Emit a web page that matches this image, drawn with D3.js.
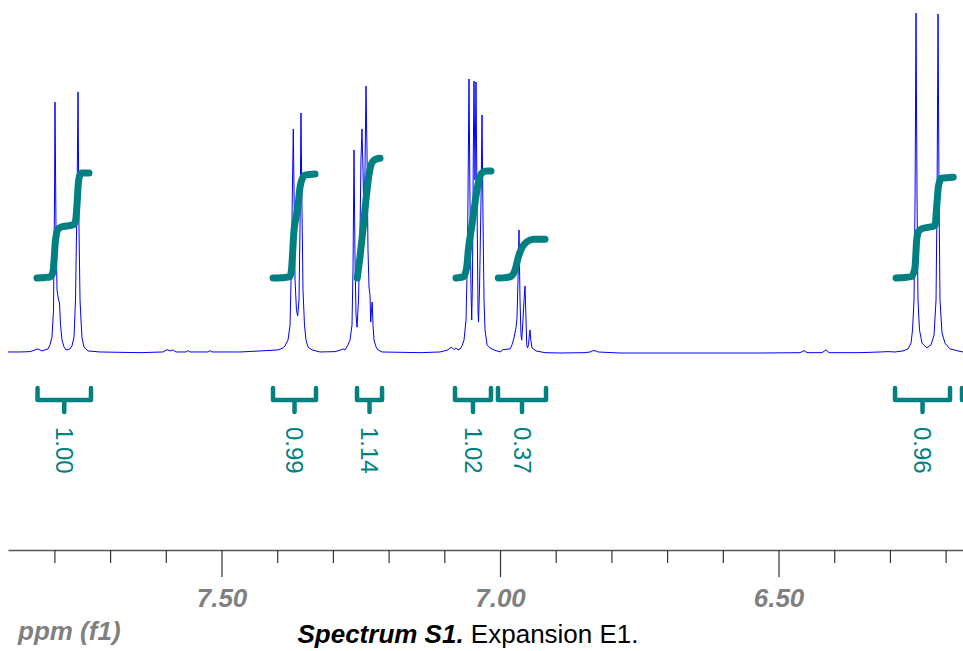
<!DOCTYPE html>
<html>
<head>
<meta charset="utf-8">
<script src="https://cdn.jsdelivr.net/npm/d3@7"></script>
<style>
  html, body { margin: 0; padding: 0; background: #ffffff; overflow: hidden; }
  svg { display: block; }
</style>
</head>
<body>
<svg id="chart" width="963" height="651"></svg>
<script>
// ---------------- data ----------------
// 1H spectrum trace: [chemical shift (ppm), relative intensity]
const spectrum = [
  [7.8833, 0.3], [7.8618, 0.3], [7.8438, 0.4], [7.8294, 1.2], [7.8223, 0.6], [7.8115, 1.2],
  [7.8079, 2.4], [7.8043, 4.7], [7.8016, 12.6], [7.7998, 45.0], [7.7989, 73.8], [7.7971, 36.2],
  [7.7953, 18.5], [7.7926, 15.6], [7.7908, 14.7], [7.7890, 8.2], [7.7863, 3.8], [7.7828, 1.8],
  [7.7792, 0.9], [7.7720, 1.2], [7.7684, 2.1], [7.7648, 4.7], [7.7621, 15.6], [7.7594, 45.0],
  [7.7576, 76.8], [7.7558, 36.2], [7.7540, 15.6], [7.7522, 9.7], [7.7504, 4.4], [7.7469, 1.8],
  [7.7397, 0.6], [7.7181, 0.3], [7.6463, 0.1], [7.6050, 0.3], [7.5978, 1.0], [7.5925, 0.6],
  [7.5871, 0.9], [7.5817, 0.3], [7.5637, 0.3], [7.5601, 0.7], [7.5566, 0.3], [7.5242, 0.3],
  [7.5206, 0.7], [7.5171, 0.3], [7.4668, 0.3], [7.4309, 0.6], [7.3986, 0.9], [7.3896, 1.5],
  [7.3860, 2.1], [7.3806, 3.8], [7.3770, 8.2], [7.3743, 27.4], [7.3725, 50.9], [7.3711, 65.9],
  [7.3698, 47.9], [7.3680, 21.5], [7.3654, 12.6], [7.3632, 10.9], [7.3609, 15.6], [7.3591, 36.2],
  [7.3573, 70.6], [7.3555, 42.1], [7.3537, 18.5], [7.3510, 8.2], [7.3483, 3.8], [7.3447, 1.8],
  [7.3375, 0.9], [7.3232, 0.3], [7.2962, 0.4], [7.2855, 0.9], [7.2819, 1.2], [7.2783, 0.9],
  [7.2729, 2.4], [7.2693, 3.8], [7.2657, 8.2], [7.2639, 24.4], [7.2621, 59.7], [7.2603, 27.4],
  [7.2585, 11.2], [7.2567, 7.6], [7.2540, 15.6], [7.2513, 36.2], [7.2496, 56.8], [7.2478, 65.9],
  [7.2460, 53.8], [7.2442, 39.1], [7.2424, 53.8], [7.2406, 78.5], [7.2388, 59.7], [7.2370, 30.3],
  [7.2352, 19.4], [7.2334, 17.1], [7.2322, 9.1], [7.2307, 12.6], [7.2295, 15.0], [7.2280, 8.2],
  [7.2262, 3.8], [7.2226, 1.8], [7.2190, 0.9], [7.2118, 0.3], [7.1436, 0.1], [7.1077, 0.3],
  [7.0934, 0.9], [7.0898, 1.5], [7.0862, 1.6], [7.0826, 1.0], [7.0790, 1.5], [7.0754, 0.9],
  [7.0718, 1.2], [7.0682, 2.1], [7.0646, 3.8], [7.0610, 9.7], [7.0583, 30.3], [7.0557, 80.6],
  [7.0539, 45.0], [7.0521, 18.5], [7.0508, 9.7], [7.0494, 21.5], [7.0479, 59.7], [7.0467, 80.0],
  [7.0449, 50.9], [7.0431, 79.7], [7.0413, 45.0], [7.0395, 12.6], [7.0386, 9.1], [7.0368, 18.5],
  [7.0341, 45.0], [7.0323, 70.0], [7.0305, 39.1], [7.0287, 15.6], [7.0269, 6.8], [7.0233, 2.4],
  [7.0180, 1.5], [7.0108, 0.9], [7.0054, 0.6], [7.0000, 0.3], [6.9946, 1.0], [6.9820, 1.2],
  [6.9785, 2.4], [6.9749, 4.4], [6.9713, 7.4], [6.9695, 10.3], [6.9677, 21.5], [6.9659, 36.2],
  [6.9641, 15.6], [6.9623, 5.3], [6.9610, 3.8], [6.9587, 9.7], [6.9569, 15.6], [6.9551, 19.7],
  [6.9533, 9.7], [6.9520, 2.4], [6.9506, 1.5], [6.9488, 2.4], [6.9474, 5.3], [6.9461, 6.8],
  [6.9447, 3.8], [6.9425, 1.5], [6.9354, 0.6], [6.9192, 0.1], [6.8923, 0.0], [6.8474, 0.1],
  [6.8384, 0.3], [6.8330, 0.7], [6.8276, 0.6], [6.8241, 0.3], [6.7846, 0.0], [6.6768, 0.0],
  [6.5332, 0.0], [6.4614, 0.1], [6.4542, 0.7], [6.4488, 0.1], [6.4219, 0.1], [6.4147, 0.9],
  [6.4093, 0.1], [6.3537, 0.1], [6.3178, 0.3], [6.3034, 0.4], [6.2908, 0.3], [6.2765, 0.6],
  [6.2675, 1.2], [6.2621, 2.9], [6.2594, 6.8], [6.2567, 15.6], [6.2549, 45.0], [6.2531, 100.0],
  [6.2513, 45.0], [6.2496, 15.6], [6.2469, 6.8], [6.2424, 2.9], [6.2339, 1.5], [6.2262, 2.4],
  [6.2208, 5.3], [6.2172, 15.6], [6.2154, 45.0], [6.2136, 99.7], [6.2118, 45.0], [6.2101, 15.6],
  [6.2065, 5.9], [6.2011, 2.9], [6.1921, 1.2], [6.1777, 0.6], [6.1688, 0.3]
];

// integration regions [from ppm, to ppm]; the last one continues past the window
const integralRanges = [
  [7.8303, 7.7343], [7.4075, 7.3303], [7.2567, 7.2118],
  [7.0808, 7.0162], [7.0036, 6.9174], [6.2908, 6.1921], [6.1706, 6.1000]
];
// normalised integral values (null = label outside the window)
const integralValues = [1.00, 0.99, 1.14, 1.02, 0.37, 0.96, null];

// running-integral traces: [ppm, fraction of the region's total]
const integralCurves = [
  [[7.8312, 0], [7.8169, 0.005], [7.8079, 0.01], [7.8043, 0.03], [7.8020, 0.08], [7.8002, 0.2],
   [7.7986, 0.33], [7.7959, 0.43], [7.7926, 0.47], [7.7846, 0.49], [7.7720, 0.5], [7.7648, 0.51],
   [7.7621, 0.54], [7.7603, 0.63], [7.7589, 0.74], [7.7571, 0.9], [7.7549, 0.97], [7.7510, 1.0],
   [7.7379, 1.0]],
  [[7.4075, 0], [7.3860, 0.005], [7.3770, 0.015], [7.3740, 0.1], [7.3722, 0.25], [7.3704, 0.42],
   [7.3681, 0.53], [7.3654, 0.6], [7.3622, 0.72], [7.3591, 0.87], [7.3561, 0.94], [7.3501, 0.99],
   [7.3321, 1.0]],
  [[7.2562, 0], [7.2540, 0.08], [7.2513, 0.18], [7.2454, 0.43], [7.2393, 0.71], [7.2346, 0.88],
   [7.2303, 0.96], [7.2244, 0.99], [7.2154, 1.0]],
  [[7.0790, 0], [7.0659, 0.01], [7.0598, 0.1], [7.0569, 0.26], [7.0508, 0.48], [7.0449, 0.7],
   [7.0390, 0.89], [7.0329, 0.98], [7.0239, 1.0], [7.0162, 1.0]],
  [[7.0031, 0], [6.9910, 0.01], [6.9820, 0.03], [6.9731, 0.2], [6.9671, 0.54], [6.9610, 0.77],
   [6.9520, 0.93], [6.9402, 1.0], [6.9192, 1.0]],
  [[6.2890, 0], [6.2729, 0.005], [6.2609, 0.015], [6.2576, 0.05], [6.2549, 0.11], [6.2519, 0.38],
   [6.2496, 0.45], [6.2472, 0.47], [6.2424, 0.49], [6.2339, 0.5], [6.2190, 0.52], [6.2160, 0.71],
   [6.2131, 0.9], [6.2101, 0.97], [6.2071, 0.99], [6.1863, 1.0]]
];

// axis ticks
const majorTicks = [7.5, 7.0, 6.5];
const majorTickLabels = ["7.50", "7.00", "6.50"];
const minorTicks = [7.8, 7.7, 7.6, 7.4, 7.3, 7.2, 7.1, 6.9, 6.8, 6.7, 6.6, 6.4, 6.3, 6.2];

const axisTitle = "ppm (f1)";
const captionBold = "Spectrum S1.";
const captionRest = " Expansion E1.";

// ---------------- drawing ----------------
const W = 963, H = 651;
const TEAL = "#008080";
const svg = d3.select("#chart");

svg.append("rect").attr("width", W).attr("height", H).attr("fill", "#ffffff");

svg.append("defs").append("clipPath").attr("id", "plotClip")
  .append("rect").attr("x", 0).attr("y", 0).attr("width", W).attr("height", H);

// chemical shift runs right-to-left
const x = d3.scaleLinear().domain([7.8833, 6.1688]).range([8, 963]);
const y = d3.scaleLinear().domain([0, 100]).range([353, 13]);
const yInt = d3.scaleLinear().domain([0, 1]).range([278, 173]);

const plot = svg.append("g").attr("clip-path", "url(#plotClip)");

// spectrum trace
plot.append("path")
  .datum(spectrum)
  .attr("fill", "none")
  .attr("stroke", "#0000ff")
  .attr("stroke-width", 1)
  .attr("stroke-linejoin", "round")
  .attr("d", d3.line().x(d => x(d[0])).y(d => y(d[1])));

// integral curves, scaled by each region's value
const intLine = d3.line().curve(d3.curveMonotoneX);
integralCurves.forEach((pts, i) => {
  const v = integralValues[i];
  plot.append("path")
    .attr("fill", "none")
    .attr("stroke", TEAL)
    .attr("stroke-width", 7)
    .attr("stroke-linecap", "round")
    .attr("stroke-linejoin", "round")
    .attr("d", intLine(pts.map(p => [x(p[0]), yInt(p[1] * v)])));
});

// integration brackets and values
const bTop = 388, bBar = 400, bStem = 412, labelTop = 427;
integralRanges.forEach((r, i) => {
  const x0 = x(r[0]), x1 = x(r[1]), xm = (x0 + x1) / 2;
  const g = plot.append("g");
  g.append("path")
    .attr("fill", "none")
    .attr("stroke", TEAL)
    .attr("stroke-width", 4.5)
    .attr("stroke-linecap", "round")
    .attr("stroke-linejoin", "round")
    .attr("d", `M${x0},${bTop}V${bBar}H${x1}V${bTop}M${xm},${bBar}V${bStem}`);
  if (integralValues[i] !== null) {
    g.append("text")
      .attr("transform", `translate(${xm},${labelTop}) rotate(90)`)
      .attr("dy", "0.35em")
      .attr("text-anchor", "start")
      .attr("font-family", "'Liberation Sans', Arial, sans-serif")
      .attr("font-size", 24)
      .attr("fill", TEAL)
      .text(d3.format(".2f")(integralValues[i]));
  }
});

// ppm axis
const axisY = 550;
const minorAxis = svg.append("g").attr("transform", `translate(0,${axisY})`)
  .call(d3.axisBottom(x).tickValues(minorTicks).tickSize(13).tickSizeOuter(0).tickFormat(""));
minorAxis.select(".domain").attr("stroke", "#555555").attr("stroke-width", 1.5);
minorAxis.selectAll(".tick line").attr("stroke", "#333333").attr("stroke-width", 1.2);

const majorAxis = svg.append("g").attr("transform", `translate(0,${axisY})`)
  .call(d3.axisBottom(x).tickValues(majorTicks).tickSize(27).tickSizeOuter(0)
    .tickFormat((d, i) => majorTickLabels[i]));
majorAxis.select(".domain").remove();
majorAxis.selectAll(".tick line").attr("stroke", "#333333").attr("stroke-width", 1.2);
majorAxis.selectAll(".tick text")
  .attr("y", 57).attr("dy", null)
  .attr("font-family", "'Liberation Sans', Arial, sans-serif")
  .attr("font-size", 26).attr("font-weight", "bold").attr("font-style", "italic")
  .attr("fill", "#808080");

// axis title
svg.append("text")
  .attr("x", 18).attr("y", 640)
  .attr("font-family", "'Liberation Sans', Arial, sans-serif")
  .attr("font-size", 26).attr("font-weight", "bold").attr("font-style", "italic")
  .attr("fill", "#808080")
  .text(axisTitle);

// caption
const cap = svg.append("text")
  .attr("x", 468).attr("y", 643)
  .attr("text-anchor", "middle")
  .attr("font-family", "'Liberation Sans', Arial, sans-serif")
  .attr("font-size", 26)
  .attr("fill", "#000000");
cap.append("tspan").attr("font-weight", "bold").attr("font-style", "italic").text(captionBold);
cap.append("tspan").text(captionRest);
</script>
</body>
</html>
